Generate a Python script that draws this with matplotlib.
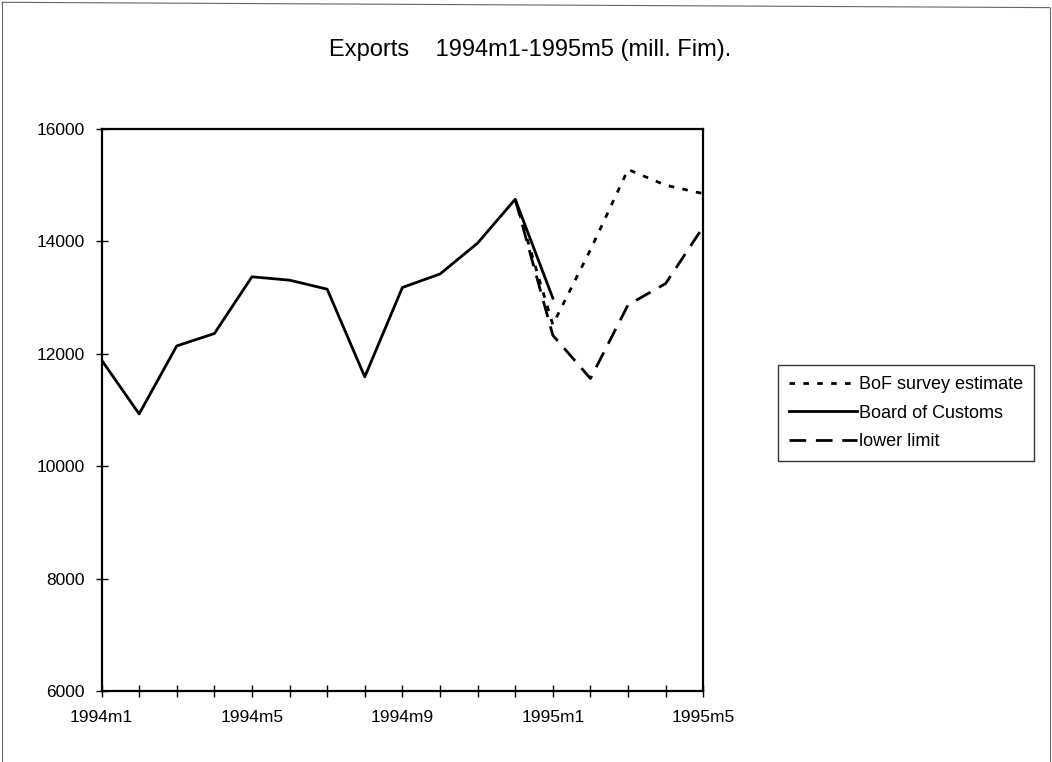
import matplotlib
matplotlib.use("Agg")
import matplotlib.pyplot as plt
import numpy as np
from matplotlib.lines import Line2D

periods = ["1994m1", "1994m2", "1994m3", "1994m4", "1994m5", "1994m6",
           "1994m7", "1994m8", "1994m9", "1994m10", "1994m11", "1994m12",
           "1995m1", "1995m2", "1995m3", "1995m4", "1995m5"]
customs = [11890, 10930, 12140, 12360, 13370, 13310, 13150, 11590,
           13180, 13420, 13970, 14750, 12990]
bof_estimate = [14750, 12520, 13850, 15280, 15000, 14850]
lower_limit = [14750, 12330, 11560, 12870, 13250, 14260]
shown_labels = ["1994m1", "1994m5", "1994m9", "1995m1", "1995m5"]

plt.rcParams["font.family"] = ["Liberation Sans", "DejaVu Sans"]

x = np.arange(len(periods))
fig = plt.figure(figsize=(10.52, 7.62), dpi=100)
ax = fig.add_axes([0.0965, 0.0932, 0.572, 0.7375])

est_x = x[len(periods) - len(bof_estimate):]
ax.plot(est_x, bof_estimate, color="black", lw=2.0, ls=(0, (2, 3)),
        label="BoF survey estimate")
ax.plot(x[:len(customs)], customs, color="black", lw=2.0, ls="-",
        label="Board of Customs")
ax.plot(est_x, lower_limit, color="black", lw=2.0, ls=(0, (6, 3.5)),
        label="lower limit")

ax.set_xlim(0, len(periods) - 1)
ax.set_ylim(6000, 16000)
ax.set_yticks([6000, 8000, 10000, 12000, 14000, 16000])
ax.set_xticks(x)
ax.set_xticklabels([p if p in shown_labels else "" for p in periods])
ax.tick_params(axis="both", direction="inout", length=8, width=1,
               labelsize=12.5, colors="black")
ax.tick_params(axis="x", pad=10)
ax.tick_params(axis="y", pad=8)
for s in ax.spines.values():
    s.set_linewidth(1.6)
    s.set_color("black")

fig.text(0.504, 1 - 55.7 / 762, "Exports    1994m1-1995m5 (mill. Fim).",
         ha="center", va="baseline", fontsize=17)

leg = fig.legend(loc="upper left", bbox_to_anchor=(0.7395, 1 - 365 / 762),
                 fontsize=13, handlelength=3.8, handletextpad=0.1,
                 borderpad=0.6, labelspacing=0.65, fancybox=False,
                 frameon=True, borderaxespad=0)
leg.get_frame().set_edgecolor("black")
leg.get_frame().set_linewidth(1.0)

# thin page border from the scanned sheet
for xs, ys in [([0.002, 0.002], [0.0, 0.997]), ([0.002, 0.998], [0.997, 0.99]),
               ([0.998, 0.998], [0.99, 0.0])]:
    fig.add_artist(Line2D(xs, ys, transform=fig.transFigure,
                          color="#666666", lw=0.8))

fig.savefig("out.png", dpi=100)
